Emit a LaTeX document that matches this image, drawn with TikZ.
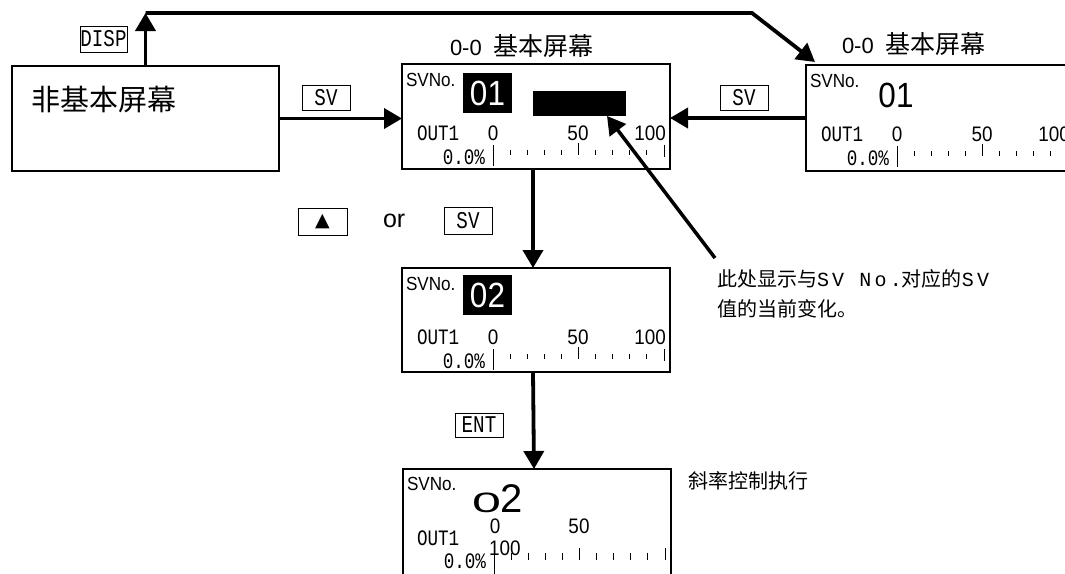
\documentclass[tikz,border=0pt]{standalone}
\usepackage{fontspec}
\usepackage{graphicx}
\usetikzlibrary{arrows.meta}
\setmainfont{Liberation Sans}
\newfontfamily\cjk{Noto Sans CJK SC}
\newfontfamily\monof[FakeStretch=0.8]{Liberation Mono}
\newfontfamily\narrowf[FakeStretch=0.9]{Liberation Sans}
\newfontfamily\annlat[LetterSpace=16]{Liberation Mono}
\newfontfamily\symf{DejaVu Sans}
\newcommand{\setfs}[1]{\fontsize{#1}{#1}\selectfont}
\tikzset{
  conn/.style={line width=3.8pt, -{Triangle[length=18pt,width=20pt]}},
  frame/.style={draw, line width=2.4pt, inner sep=0pt, outer sep=0pt, anchor=north west},
  keybox/.style={draw, line width=0.9pt, inner sep=0pt, font=\monof\setfs{24}},
  tick/.style={line width=1pt},
  lbl/.style={inner sep=0pt, outer sep=0pt},
  numf/.style={lbl, font=\narrowf\setfs{21}},
  monolbl/.style={lbl, font=\monof\setfs{22}},
  svnof/.style={lbl, font=\narrowf\setfs{19}},
  inv/.style={fill=black, text=white, inner sep=0pt, outer sep=0pt, minimum width=49pt, minimum height=40pt, anchor=north west, font=\narrowf\setfs{35}},
  pics/lcd/.style={code={
    \node[svnof, anchor=base west] (-svno) at (4,22) {SVNo.};
    \node[monolbl, anchor=base west] (-out) at (15,76) {OUT1};
    \node[numf, anchor=base] (-d0) at (91,76) {0};
    \node[numf, anchor=base] (-d50) at (176,76) {50};
    \node[numf, anchor=base east] (-d100) at (264,76) {100};
    \node[monolbl, anchor=base east] (-pct) at (83,100) {0.0\%};
    \draw[tick] (91,81) -- (91,102);
    \foreach \i in {1,2,3,4,6,7,8,9} \draw[tick] ({91+17.1*\i},86) -- ({91+17.1*\i},91);
    \draw[tick] (176.5,79) -- (176.5,91);
    \draw[tick] (262,81) -- (262,93);
  }}
}
\begin{document}
\begin{tikzpicture}[x=1pt,y=-1pt]
\useasboundingbox (0,0) rectangle (1065,573);
\clip (0,0) rectangle (1065,573);

% non-basic screen
\node[frame, minimum width=267pt, minimum height=105pt] (nb) at (12,66) {};
\node[lbl, anchor=base west, font=\cjk\setfs{29}] (nbt) at (31,110) {非基本屏幕};

% main screen
\node[lbl, anchor=base west] (mtitle) at (450,55) {\setfs{22}0-0\hspace{12pt}{\cjk\setfs{25}基本屏幕}};
\node[frame, minimum width=268pt, minimum height=105pt] (ms) at (402,64) {};
\pic (m) at (402,64) {lcd};
\node[inv] (mnum) at (463,73) {01};
\node[fill=black, inner sep=0pt, outer sep=0pt, minimum width=93pt, minimum height=25pt, anchor=north west] (bar) at (533,91) {};

% right screen
\node[lbl, anchor=base west] (rtitle) at (842,53) {\setfs{22}0-0\hspace{12pt}{\cjk\setfs{25}基本屏幕}};
\node[frame, minimum width=268pt, minimum height=106pt] (rs) at (806,65) {};
\pic (r) at (806,65) {lcd};
\node[lbl, anchor=base, font=\narrowf\setfs{35}] (rnum) at (896,107) {01};

% middle screen
\node[frame, minimum width=268pt, minimum height=104pt] (ws) at (402,268) {};
\pic (w) at (402,268) {lcd};
\node[inv] (wnum) at (463,275) {02};

% bottom screen
\node[frame, minimum width=268pt, minimum height=115pt] (bs) at (403,469) {};
\node[svnof, anchor=base west] (bsvno) at (407,490) {SVNo.};
\node[lbl, anchor=base west, font=\setfs{40}] (bnum) at (472,512) {\scalebox{1.3}[0.7]{0}2};
\node[numf, anchor=base] (bd0) at (495,533) {0};
\node[numf, anchor=base] (bd50) at (579,533) {50};
\node[monolbl, anchor=base west] (bout) at (417,545) {OUT1};
\node[numf, anchor=base west] (bd100) at (489,555) {100};
\node[monolbl, anchor=base east] (bpct) at (486,568) {0.0\%};
\draw[tick] (494,542) -- (494,580);
\foreach \i in {1,2,3,4,6,7,8,9} \draw[tick] ({494+17.1*\i},553) -- ({494+17.1*\i},560);
\draw[tick] (579.5,548) -- (579.5,560);
\draw[tick] (665,548) -- (665,560);
\node[lbl, anchor=base west, font=\cjk\setfs{20}] (ramp) at (688,488) {斜率控制执行};

% key labels
\node[keybox, minimum width=47pt, minimum height=26pt] (kdisp) at (103.5,39) {DISP};
\node[keybox, minimum width=48pt, minimum height=25pt] (ksv1) at (326,97.5) {SV};
\node[keybox, minimum width=48pt, minimum height=25pt] (ksv2) at (744,97.5) {SV};
\node[keybox, minimum width=49pt, minimum height=27pt, font=\symf\setfs{19}] (kup) at (322.5,221.5) {▲};
\node[lbl, anchor=base west, font=\setfs{25}] (kor) at (383,227) {or};
\node[keybox, minimum width=48pt, minimum height=27pt] (ksv3) at (468,220.5) {SV};
\node[keybox, minimum width=48pt, minimum height=24pt] (kent) at (479,425) {ENT};

% annotation
\node[lbl, anchor=base west, font=\cjk\setfs{20}] (ann1) at (717,286) {此处显示与{\annlat SV No.}对应的{\annlat SV}};
\node[lbl, anchor=base west, font=\cjk\setfs{20}] (ann2) at (717,316) {值的当前变化。};

% connectors
\coordinate (c1) at (145.5,13);
\coordinate (bend) at (752,13);
\coordinate (rtip) at (815,62);
\coordinate (ptr) at (715,258);
\draw[conn] (nb.north) -- (c1);
\draw[conn] (c1) -- (bend) -- (rtip);
\draw[conn] (nb.east) -- (nb.east -| ms.west);
\draw[conn] (rs.west) -- (rs.west -| ms.east);
\draw[conn] ([xshift=-3pt]ms.south) -- ([xshift=-3pt]ws.north);
\draw[conn] ([xshift=-3pt]ws.south) -- ([xshift=-3pt]bs.north);
\draw[conn, line width=3.5pt] (ptr) -- ([xshift=-19pt]bar.south east);
\end{tikzpicture}
\end{document}
